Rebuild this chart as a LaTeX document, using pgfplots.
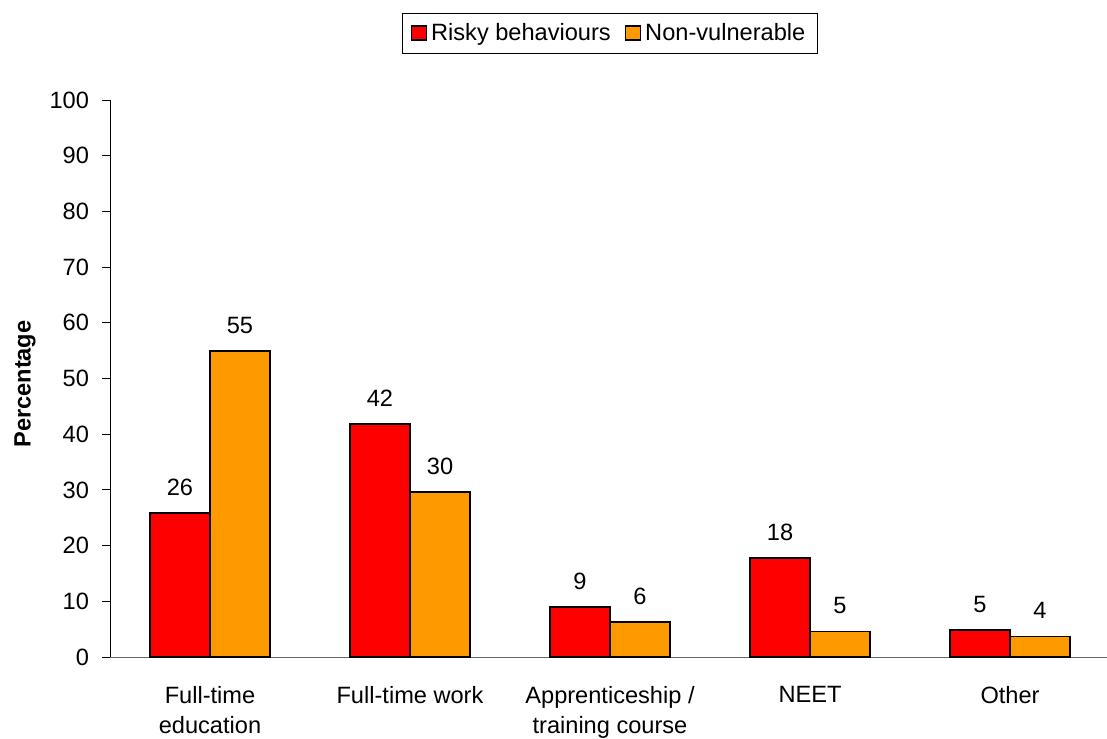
\documentclass[border=0pt]{standalone}
\usepackage{pgfplots}
\pgfplotsset{compat=1.18}
\usepackage{fontspec}
\setmainfont{Liberation Sans}
\definecolor{riskred}{RGB}{255,0,0}
\definecolor{nvorange}{RGB}{255,153,0}
\begin{document}
\begin{tikzpicture}
\begin{axis}[
    scale only axis,
    width=500pt, height=278.5pt,
    ybar=0pt,
    bar width=30pt,
    xmin=-0.5, xmax=4.5,
    ymin=0, ymax=100,
    ytick={0,10,...,100},
    xtick={0,1,2,3,4},
    xticklabels={Full-time\\education, Full-time work, Apprenticeship /\\training course, NEET, Other},
    xticklabel style={align=center, font=\fontsize{11.8}{15}\selectfont, yshift=-7pt},
    yticklabel style={font=\fontsize{11.8}{14}\selectfont, xshift=-3pt},
    /pgf/number format/assume math mode=true,
    x tick style={draw=none},
    extra x ticks={-0.5,0.5,1.5,2.5,3.5,4.5},
    extra x tick labels={},
    extra x tick style={tick style={draw=black, thin}, major tick length=5pt},
    y tick style={black, thin},
    major tick length=4pt,
    tick align=outside,
    axis x line*=bottom,
    axis y line*=left,
    x axis line style={gray!80!black, thin, -},
    y axis line style={black, thin, -},
    ylabel={\bfseries Percentage},
    ylabel style={font=\fontsize{11.8}{14}\selectfont, at={(axis description cs:-0.085,0.49)}, anchor=center},
    point meta=explicit symbolic,
    nodes near coords,
    every node near coord/.append style={font=\fontsize{11.8}{14}\selectfont, yshift=5pt},
    legend columns=2,
    legend style={at={(0.5,1.12)}, anchor=center, draw=black, thin,
        font=\fontsize{11.8}{14}\selectfont, inner xsep=4pt, inner ysep=3pt,
        /tikz/every even column/.append style={column sep=5pt}},
    legend image code/.code={\draw[#1, line width=0.7pt] (0pt,-3.5pt) rectangle (7.5pt,3.5pt);},
]
\addplot[fill=riskred, draw=black, line width=0.8pt]
    coordinates {(0,25.9) [26] (1,41.8) [42] (2,9.0) [9] (3,17.8) [18] (4,4.8) [5]};
\addlegendentry{Risky behaviours}
\addplot[fill=nvorange, draw=black, line width=0.8pt]
    coordinates {(0,54.9) [55] (1,29.6) [30] (2,6.3) [6] (3,4.6) [5] (4,3.7) [4]};
\addlegendentry{Non-vulnerable}
\end{axis}
\pgfresetboundingbox
\path[use as bounding box] ([shift={(-55pt,-40.5pt)}]current axis.south west)
    rectangle ([shift={(-1.5pt,50pt)}]current axis.north east);
\end{tikzpicture}
\end{document}
